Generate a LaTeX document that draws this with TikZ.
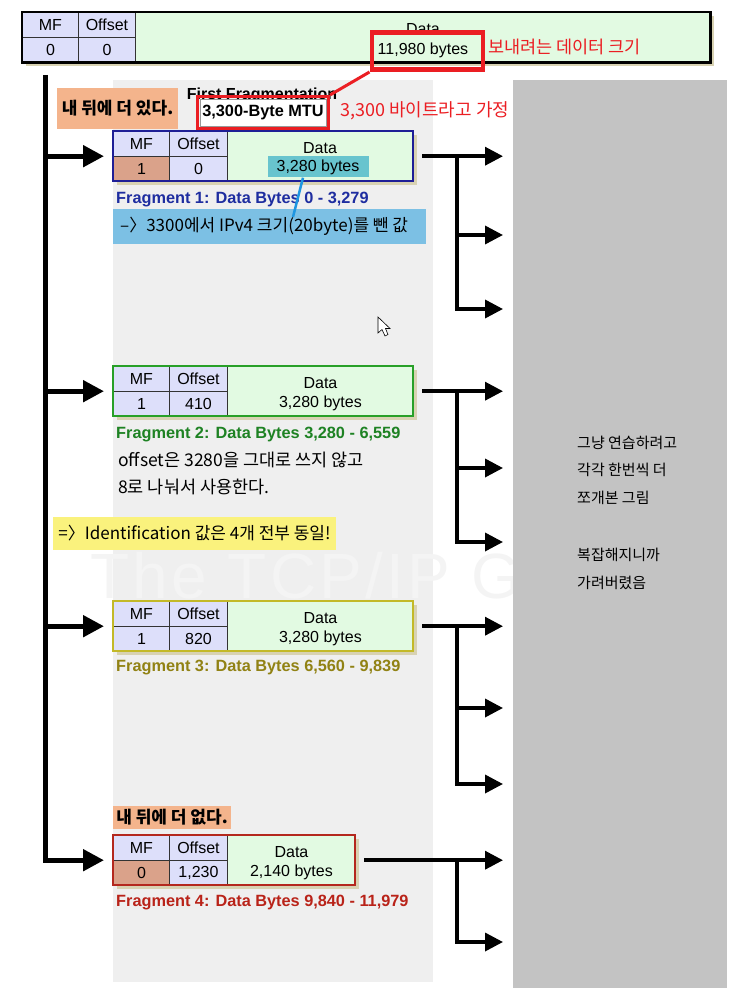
\documentclass[tikz,border=0pt]{standalone}
\usepackage{fontspec}
\setmainfont{Liberation Sans}
\newfontfamily\kr{Noto Sans CJK KR}
\usetikzlibrary{arrows.meta,shadows,fit}
\definecolor{lav}{RGB}{221,223,250}
\definecolor{datagreen}{RGB}{226,250,226}
\definecolor{mfsalmon}{RGB}{218,162,138}
\definecolor{shadowtan}{RGB}{216,210,178}
\definecolor{panel}{RGB}{239,239,239}
\definecolor{cover}{RGB}{195,195,195}
\definecolor{wmgray}{RGB}{244,244,244}
\definecolor{tagorange}{RGB}{244,180,140}
\definecolor{noteyellow}{RGB}{250,242,125}
\definecolor{noteblue}{RGB}{124,192,228}
\definecolor{hilite}{RGB}{104,196,206}
\definecolor{linkblue}{RGB}{30,150,225}
\definecolor{alertred}{RGB}{235,30,35}
\definecolor{f1col}{RGB}{30,30,150}
\definecolor{f1text}{RGB}{30,45,160}
\definecolor{f2col}{RGB}{40,160,40}
\definecolor{f2text}{RGB}{30,130,35}
\definecolor{f3col}{RGB}{195,185,40}
\definecolor{f3text}{RGB}{145,130,20}
\definecolor{f4col}{RGB}{180,40,30}
\definecolor{f4text}{RGB}{185,35,25}
\begin{document}
\begin{tikzpicture}[x=1pt,y=-1pt,
  every node/.style={inner sep=0pt, font=\fontsize{16}{19}\selectfont},
  kor/.style={font=\kr\fontsize{17.5}{20}\selectfont},
  fragframe/.style={anchor=north west, fill=white, minimum height=50,
    drop shadow={shadow xshift=4pt, shadow yshift=-4pt, fill=shadowtan, opacity=1}},
  cell/.style={anchor=north west, draw=black!80, line width=0.9pt, minimum height=25},
  head/.style={cell, fill=lav},
  datacell/.style={cell, fill=datagreen, minimum height=50},
  datatext/.style={align=center, yshift=-3pt},
  fraglabel/.style={anchor=west, font=\bfseries\fontsize{16.3}{19}\selectfont},
  notetag/.style={font=\kr\bfseries\fontsize{17}{19}\selectfont, fill=tagorange},
  trunk/.style={line width=5pt, -{Triangle[length=21pt,width=21pt]}, shorten >=9pt},
  branch/.style={line width=3.5pt, -{Triangle[length=18pt,width=18pt]}}]
\useasboundingbox (0,0) rectangle (752,1003);

% background panels
\fill[panel] (113,80) rectangle (433,982);
\node[anchor=base west, font=\fontsize{64}{64}\selectfont\addfontfeatures{LetterSpace=5}, text=wmgray] (mark) at (90,598) {The TCP/IP G};
\fill[cover] (513,80) rectangle (727,988);

% original datagram
\node[fragframe, minimum width=688] (orig) at (22,12) {};
\node[head, minimum width=56] (origmf) at (22,12) {MF};
\node[head, minimum width=56] (origmfv) at (22,37) {0};
\node[head, minimum width=57] (origoff) at (78,12) {Offset};
\node[head, minimum width=57] (origoffv) at (78,37) {0};
\node[datacell, minimum width=575] (origdata) at (135,12) {};
\node[datatext, font=\fontsize{16}{20}\selectfont] (origdatat) at (origdata) {Data\\11,980 bytes};
\draw[line width=2.5pt] (orig.north west) rectangle (orig.south east);
\node[anchor=north west, draw=alertred, line width=4.5pt, minimum width=111, minimum height=37] (sizebox) at (369.5,30.5) {};
\node[kor, text=alertred, anchor=west] (sizenote) at (488,47) {보내려는 데이터 크기};

% MTU
\node[font=\bfseries\fontsize{16}{19}\selectfont, anchor=base] (firstfrag) at (262,100) {First Fragmentation};
\node[fill=white, draw=black!40, line width=0.6pt, minimum width=126, minimum height=27,
  font=\bfseries\fontsize{16.3}{19}\selectfont] (mtu) at (263,112.5) {3,300-Byte MTU};
\node[draw=alertred, line width=3.5pt, fit=(mtu), inner sep=2pt] (mtuframe) {};
\draw[alertred, line width=3pt] (sizebox.south west) -- (mtuframe.north east);
\node[kor, font=\kr\fontsize{18}{20}\selectfont, text=alertred, anchor=west] (mtunote) at (340,111) {3,300 바이트라고 가정};
\node[notetag, minimum width=121, minimum height=41] (more) at (117.5,108.5) {내 뒤에 더 있다.};

% fragment 1
\node[fragframe, minimum width=300] (f1) at (113,131) {};
\node[head, minimum width=56] (f1mf) at (113,131) {MF};
\node[cell, fill=mfsalmon, minimum width=56] (f1mfv) at (113,156) {1};
\node[head, minimum width=58] (f1off) at (169,131) {Offset};
\node[head, minimum width=58] (f1offv) at (169,156) {0};
\node[datacell, minimum width=186] (f1data) at (227,131) {};
\node (f1datat) at (320,148) {Data};
\node[fill=hilite, minimum width=101, minimum height=21] (f1bytes) at (318,167) {3,280 bytes};
\draw[f1col, line width=2pt] (f1.north west) rectangle (f1.south east);
\node[fraglabel, text=f1text] (f1label) at (116,200) {Fragment 1: Data Bytes 0 - 3,279};
\node[fill=noteblue, anchor=west, minimum width=313, minimum height=35] (ipnote) at (113,226) {};
\node[kor, font=\kr\fontsize{17}{20}\selectfont, anchor=west] (ipnotet) at ([xshift=7pt]ipnote.west) {–〉3300에서 IPv4 크기(20byte)를 뺀 값};
\coordinate (ippoint) at (293,217);
\draw[linkblue, line width=2.5pt] ([xshift=-15pt]f1bytes.south) -- (ippoint);

% pointer
\draw[fill=white, line width=0.6pt] (378,317) -- (378,333) -- (382,329.5) -- (385,336) -- (388,334.5) -- (385.5,328.5) -- (390,328.5) -- cycle;

% fragment 2
\node[fragframe, minimum width=300] (f2) at (113,366) {};
\node[head, minimum width=56] (f2mf) at (113,366) {MF};
\node[head, minimum width=56] (f2mfv) at (113,391) {1};
\node[head, minimum width=58] (f2off) at (169,366) {Offset};
\node[head, minimum width=58] (f2offv) at (169,391) {410};
\node[datacell, minimum width=186] (f2data) at (227,366) {};
\node[datatext] (f2datat) at (f2data) {Data\\3,280 bytes};
\draw[f2col, line width=2pt] (f2.north west) rectangle (f2.south east);
\node[fraglabel, text=f2text] (f2label) at (116,435) {Fragment 2: Data Bytes 3,280 - 6,559};
\node[kor, anchor=west] (offnote1) at (118,460) {offset은 3280을 그대로 쓰지 않고};
\node[kor, anchor=west] (offnote2) at (118,487) {8로 나눠서 사용한다.};
\node[kor, font=\kr\fontsize{17}{20}\selectfont, fill=noteyellow, minimum width=283, minimum height=33] (idnote) at (194.5,533.5) {=〉Identification 값은 4개 전부 동일!};

% fragment 3
\node[fragframe, minimum width=300] (f3) at (113,601) {};
\node[head, minimum width=56] (f3mf) at (113,601) {MF};
\node[head, minimum width=56] (f3mfv) at (113,626) {1};
\node[head, minimum width=58] (f3off) at (169,601) {Offset};
\node[head, minimum width=58] (f3offv) at (169,626) {820};
\node[datacell, minimum width=186] (f3data) at (227,601) {};
\node[datatext] (f3datat) at (f3data) {Data\\3,280 bytes};
\draw[f3col, line width=2pt] (f3.north west) rectangle (f3.south east);
\node[fraglabel, text=f3text] (f3label) at (116,668) {Fragment 3: Data Bytes 6,560 - 9,839};

% fragment 4
\node[notetag, minimum width=118, minimum height=23] (last) at (172,817.5) {내 뒤에 더 없다.};
\node[fragframe, minimum width=242] (f4) at (113,835) {};
\node[head, minimum width=56] (f4mf) at (113,835) {MF};
\node[cell, fill=mfsalmon, minimum width=56] (f4mfv) at (113,860) {0};
\node[head, minimum width=58] (f4off) at (169,835) {Offset};
\node[head, minimum width=58] (f4offv) at (169,860) {1,230};
\node[datacell, minimum width=128] (f4data) at (227,835) {};
\node[datatext] (f4datat) at (f4data) {Data\\2,140 bytes};
\draw[f4col, line width=2pt] (f4.north west) rectangle (f4.south east);
\node[fraglabel, text=f4text] (f4label) at (116,903) {Fragment 4: Data Bytes 9,840 - 11,979};

% cover note
\node[kor, font=\kr\fontsize{15}{27.5}\selectfont, anchor=west, align=left] (covernote1) at (577,470) {그냥 연습하려고\\각각 한번씩 더\\쪼개본 그림};
\node[kor, font=\kr\fontsize{15}{27.5}\selectfont, anchor=west, align=left] (covernote2) at (577,569) {복잡해지니까\\가려버렸음};

% left tree
\coordinate (trunktop) at (45,75);
\draw[trunk] (trunktop) |- (f4.west);
\foreach \f in {f1,f2,f3}
  \draw[trunk] (trunktop |- \f.west) -- (\f.west);

% right branches
\coordinate (split) at (457,0);
\coordinate (tips) at (503,0);
\foreach \f/\a/\b in {f1/235/309,f2/468/542,f3/708/784}{
  \coordinate (\f-a) at (503,\a);
  \coordinate (\f-b) at (503,\b);
  \draw[branch] ([xshift=9pt]\f.east) -- (\f.east -| tips);
  \draw[branch] (\f.east -| split) |- (\f-a);
  \draw[branch] (\f.east -| split) |- (\f-b);
}
\coordinate (f4-a) at (503,942);
\draw[branch] ([xshift=9pt]f4.east) -- (f4.east -| tips);
\draw[branch] (f4.east -| split) |- (f4-a);
\end{tikzpicture}
\end{document}
